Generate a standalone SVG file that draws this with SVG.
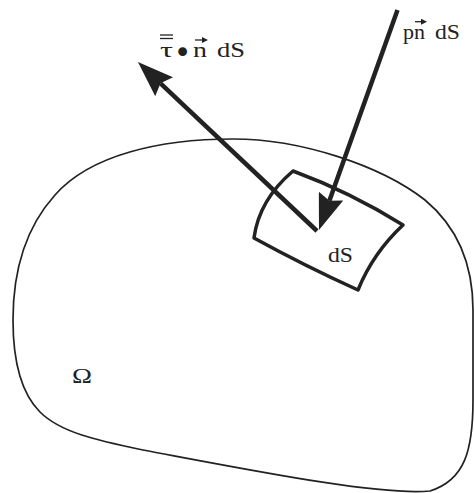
<svg xmlns="http://www.w3.org/2000/svg" width="474" height="493" viewBox="0 0 474 493">
<style>
  .blob { fill: none; stroke: #222; stroke-width: 1.7; }
  .patch { fill: none; stroke: #222; stroke-width: 3.5; stroke-linejoin: round; }
  .shaft { fill: none; stroke: #222; stroke-width: 4.5; stroke-linecap: butt; }
  .lbl { font-family: "Liberation Serif", "Times New Roman", serif; font-size: 20.5px; fill: #222; }
  .acc { stroke: #222; stroke-width: 1.3; fill: none; }
  .dot { font-family: "DejaVu Sans", sans-serif; font-size: 30px; fill: #222; }
</style>
<defs>
  <marker id="head" viewBox="0 0 36 26" refX="5" refY="13" markerWidth="36" markerHeight="26" markerUnits="userSpaceOnUse" orient="auto">
    <path d="M0,0 L36,13 L0,26 L5,13 Z" fill="#222"/>
  </marker>
  <marker id="vec" viewBox="0 0 6 6" refX="1" refY="3" markerWidth="6" markerHeight="6" markerUnits="userSpaceOnUse" orient="auto">
    <path d="M0,0 L6,3 L0,6 Z" fill="#222"/>
  </marker>
</defs>
<rect width="474" height="493" fill="#fff"/>

<g id="domain">
  <path class="blob" d="M233,139 C300,139 380,165 425,200 C455,225 473,260 473,310 L473,400 C473,450 465,480 430,491 C380,496 250,470 143,450 C95,440 60,432 40,412 C20,392 13,360 13,320 C13,265 28,225 55,195 C90,155 160,139 233,139 Z"/>
  <text class="lbl" x="72" y="383" font-size="25" textLength="20" lengthAdjust="spacingAndGlyphs">Ω</text>
</g>

<g id="patch">
  <path class="patch" d="M293,171 Q350,192 403,225 Q373,253 358,290 Q305,266 254,238 Q259,200 293,171 Z"/>
  <text class="lbl" x="328" y="262" textLength="25" lengthAdjust="spacingAndGlyphs">dS</text>
</g>

<g id="connectors">
  <line class="shaft" x1="317" y1="231" x2="160.5" y2="83.3" marker-end="url(#head)"/>
  <line class="shaft" x1="397.5" y1="10" x2="329.4" y2="200.8" marker-end="url(#head)"/>
</g>

<g id="label-traction">
  <text class="lbl" x="160" y="57" textLength="13" lengthAdjust="spacingAndGlyphs">τ</text>
  <line class="acc" x1="160" y1="35" x2="173" y2="35"/>
  <line class="acc" x1="160" y1="38.5" x2="173" y2="38.5"/>
  <text class="dot" x="182.5" y="63" text-anchor="middle">•</text>
  <text class="lbl" x="193" y="57" textLength="14" lengthAdjust="spacingAndGlyphs">n</text>
  <line class="acc" x1="195" y1="40" x2="203" y2="40" marker-end="url(#vec)"/>
  <text class="lbl" x="217" y="57" textLength="28" lengthAdjust="spacingAndGlyphs">dS</text>
</g>

<g id="label-pressure">
  <text class="lbl" x="403" y="39" textLength="22" lengthAdjust="spacingAndGlyphs">pn</text>
  <line class="acc" x1="415" y1="21.7" x2="422" y2="21.7" marker-end="url(#vec)"/>
  <text class="lbl" x="435" y="39" textLength="25" lengthAdjust="spacingAndGlyphs">dS</text>
</g>
</svg>
